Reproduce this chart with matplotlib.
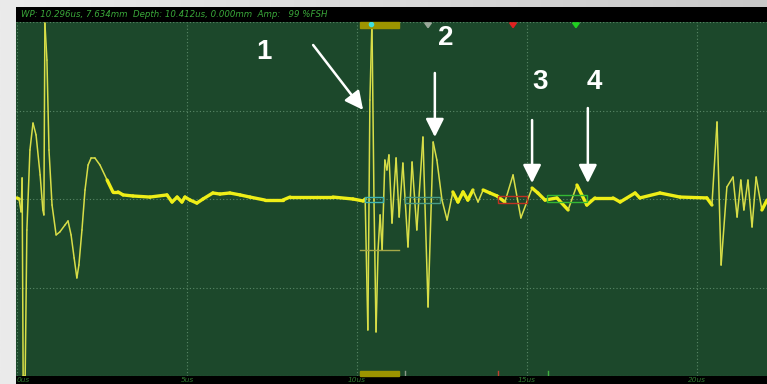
import numpy as np
import matplotlib.pyplot as plt
import matplotlib.transforms as mtransforms
from matplotlib.collections import LineCollection
from matplotlib.colors import LinearSegmentedColormap
from matplotlib.patches import Rectangle, Polygon

# A-scan trace: time in us, amplitude in %FSH
time_us = [0.00, 0.06, 0.12, 0.15, 0.18, 0.24, 0.29, 0.38, 0.47, 0.56,
           0.68, 0.76, 0.79, 0.82, 0.88, 0.94, 1.03, 1.15, 1.26, 1.41,
           1.50, 1.59, 1.68, 1.76, 1.82, 1.91, 2.00, 2.09, 2.18, 2.29,
           2.44, 2.65, 2.82, 2.97, 3.12, 3.41, 3.91, 4.41, 4.56, 4.71,
           4.85, 4.94, 5.09, 5.29, 5.47, 5.76, 5.97, 6.26, 6.56, 6.85,
           7.29, 7.82, 8.03, 8.82, 9.29, 9.88, 10.18,
           10.24, 10.32, 10.38, 10.44, 10.50, 10.56, 10.62, 10.68, 10.74, 10.82,
           10.88, 10.94, 11.03, 11.15, 11.24, 11.35, 11.50, 11.62, 11.76, 11.94,
           12.09, 12.24, 12.35, 12.50, 12.65, 12.82, 12.97, 13.12, 13.26, 13.41,
           13.56, 13.71, 13.91, 14.12, 14.35, 14.59, 14.82, 15.15, 15.32, 15.53,
           15.88, 16.21, 16.47, 16.76, 17.00, 17.53, 17.74, 18.18, 18.32, 18.91,
           19.50, 20.29, 20.44, 20.59, 20.71, 20.88, 21.06, 21.18, 21.29, 21.38,
           21.50, 21.62, 21.74, 21.91, 22.06]
amp_fsh = [0.6, 0.0, -7.3, 11.9, -100, -100, -17.5, 27.7, 42.9, 36.2,
           13.6, -6.2, -9.0, 99.4, 78.5, 27.7, -3.4, -20.3, -18.6, -14.7,
           -12.4, -20.3, -33.3, -44.6, -37.3, -17.5, 5.1, 19.2, 23.2, 23.2,
           19.2, 10.7, 4.0, 4.0, 2.3, 1.7, 1.1, 2.3, -1.7, 1.1,
           -1.7, 1.1, -0.6, -2.3, 0.0, 3.4, 2.8, 3.4, 2.3, 1.1,
           -0.6, -0.6, 1.1, 1.1, 1.1, 0.0, -1.1,
           0.0, -74.0, 55.9, 100, -0.6, -75.1, -28.8, -9.0, -28.8, 22.0,
           16.4, 24.9, -13.6, 23.2, -10.2, 20.3, -27.1, 20.9, -17.5, 35.0,
           -61.0, 32.2, 22.0, -0.6, -11.9, 4.0, -1.7, 4.0, -0.6, 5.1,
           -1.7, 5.1, 3.4, 1.7, -1.7, 13.6, -10.7, 6.2, 3.4, -0.6,
           0.6, -6.2, 7.9, -3.4, 0.6, 0.6, -1.7, 3.4, 0.6, 3.4,
           1.1, 0.6, -3.4, 43.5, -37.3, 6.8, 12.4, -10.2, 10.7, -6.2,
           10.7, -15.8, 12.4, -6.2, -0.6]

header = "WP: 10.296us, 7.634mm  Depth: 10.412us, 0.000mm  Amp:   99 %FSH"
tick_us = [0, 5, 10, 15, 20]
tick_labels = ["0us", "5us", "10us", "15us", "20us"]

# gate boxes: (start us, end us, low %, high %, colour)
gates = [(10.24, 10.76, -1.7, 1.1, "#3fb4b4"),
         (11.41, 12.44, -2.3, 1.1, "#4a9c84"),
         (14.15, 15.00, -2.3, 1.7, "#c03222"),
         (15.59, 16.76, -1.7, 2.3, "#34b834")]
gate_start_marks = [(11.41, "#8a9a8a"), (14.15, "#c04030"), (15.62, "#40b040")]
gate_top_marks = [(12.09, "#9aa89a"), (14.59, "#e02020"), (16.44, "#20d020")]
sync_bar = (10.09, 11.24)
sync_level = -28.8

# numbered echoes: label, label pos, arrow tail, arrow tip
echo_ids = ["1", "2", "3", "4"]
label_pos = [(7.26, 83.0), (12.62, 91.0), (15.38, 66.0), (16.97, 66.0)]
arrow_tail = [(8.71, 87.0), (12.29, 71.2), (15.15, 44.6), (16.79, 51.4)]
arrow_tip = [(10.18, 50.3), (12.29, 35.0), (15.15, 9.0), (16.79, 9.0)]

W, H = 767, 384
fig = plt.figure(figsize=(W / 100, H / 100), dpi=100)
fig.patch.set_facecolor("#e2e2e2")

# light grey gradient behind everything
bg = fig.add_axes([0, 0, 1, 1], zorder=-5)
grad = np.linspace(0, 1, 256)[None, :]
bg.imshow(grad, aspect="auto", extent=[0, 1, 0, 1],
          cmap=LinearSegmentedColormap.from_list("g", ["#ebebeb", "#c9c9c9"]))
bg.axis("off")

# black status bars
top_bar = fig.add_axes([16 / W, (H - 22) / H, 751 / W, 15 / H])
top_bar.set_facecolor("black")
top_bar.set_xticks([]); top_bar.set_yticks([])
for s in top_bar.spines.values():
    s.set_visible(False)
top_bar.text(0.006, 0.5, header, color="#3aa83a", fontsize=6.2, style="italic",
             va="center", ha="left", transform=top_bar.transAxes)

bot_bar = fig.add_axes([16 / W, 0, 751 / W, 8 / H])
bot_bar.set_facecolor("black")
bot_bar.set_xticks([]); bot_bar.set_yticks([])
for s in bot_bar.spines.values():
    s.set_visible(False)

ax = fig.add_axes([16 / W, 8 / H, 751 / W, 354 / H])
ax.set_facecolor("#1c482b")
ax.set_xlim(-0.03, 22.06)
ax.set_ylim(-100, 100)
ax.set_xticks(tick_us)
ax.set_yticks([-100, -50, 0, 50, 100])
ax.tick_params(length=0, labelbottom=False, labelleft=False)
ax.grid(True, color="#5a8868", linestyle=(0, (1, 2)), linewidth=0.8)
for s in ax.spines.values():
    s.set_visible(False)

# trace: thin where it swings fast, thick noisy band where it sits near baseline
t = np.array(time_us)
a = np.array(amp_fsh)
pts = np.column_stack([t, a])
disp = ax.transData.transform(pts)
dx = np.diff(disp[:, 0])
dy = np.diff(disp[:, 1])
near_base = (np.abs(a[:-1]) < 12) & (np.abs(a[1:]) < 12)
flat = (np.abs(dy) <= 2.2 * np.abs(dx)) & near_base
segs = np.stack([pts[:-1], pts[1:]], axis=1)
widths = np.where(flat, 2.4, 1.1)
cols = np.where(flat, "#eeee18", "#d8de48")
lc = LineCollection(segs, linewidths=widths, colors=cols, capstyle="round",
                    joinstyle="round", zorder=3)
ax.add_collection(lc)

# gates
for g0, g1, lo, hi, c in gates:
    ax.add_patch(Rectangle((g0, lo), g1 - g0, hi - lo, fill=False, edgecolor=c,
                           linewidth=1.0, zorder=4))
ax.plot(sync_bar, [sync_level, sync_level], color="#a4a848", lw=1.0, zorder=4)
ax.add_patch(Rectangle((sync_bar[0], 96.6), sync_bar[1] - sync_bar[0], 3.4,
                       color="#9c9400", zorder=5, clip_on=False))
ax.add_patch(Rectangle((sync_bar[0], -100), sync_bar[1] - sync_bar[0], 2.8,
                       color="#9c9400", zorder=5, clip_on=False))
ax.plot([10.41], [98.6], "o", color="#40e0e0", ms=3, zorder=6)
for gx, c in gate_start_marks:
    ax.plot([gx, gx], [-100, -97.4], color=c, lw=1.0, zorder=6)
for gx, c in gate_top_marks:
    tri = Polygon([(gx - 0.1, 99.5), (gx + 0.1, 99.5), (gx, 96.8)], closed=True,
                  color=c, zorder=6)
    ax.add_patch(tri)

# time labels in the bottom bar
blend = mtransforms.blended_transform_factory(ax.transData, fig.transFigure)
for tx, lab in zip(tick_us, tick_labels):
    ax.text(tx, 3.6 / H, lab, transform=blend, color="#2f7a30", fontsize=5.3,
            style="italic", ha="left" if tx == 0 else "center", va="center",
            clip_on=False)

# numbered echoes
for eid, lp, tail, tip in zip(echo_ids, label_pos, arrow_tail, arrow_tip):
    ax.text(lp[0], lp[1], eid, color="white", fontsize=20, fontweight="bold",
            family=["Liberation Sans", "DejaVu Sans"], ha="center", va="center", zorder=8)
    ax.annotate("", xy=tip, xytext=tail,
                arrowprops=dict(arrowstyle="-|>,head_length=1.0,head_width=0.5",
                                color="white", lw=1.8, mutation_scale=11,
                                shrinkA=0, shrinkB=0), zorder=8)

fig.savefig("out.png", dpi=100)
